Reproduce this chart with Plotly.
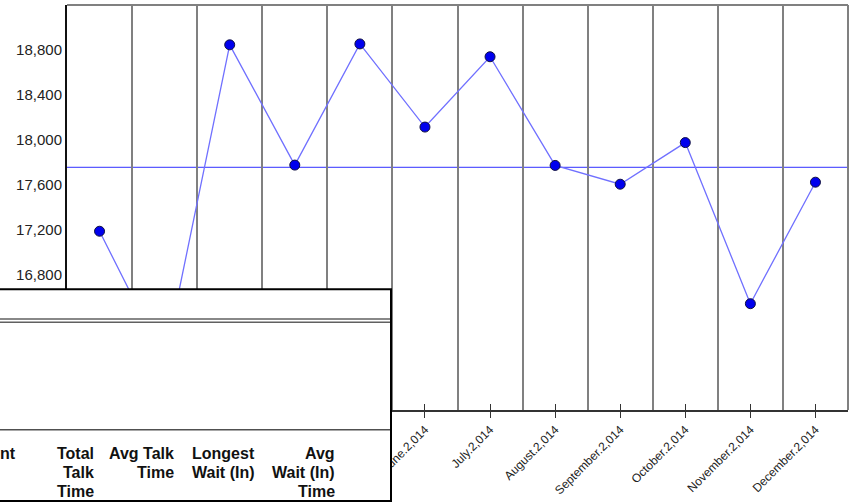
import plotly.graph_objects as go

months = ["January", "February", "March", "April", "May", "June", "July",
          "August", "September", "October", "November", "December"]
tick_labels = [m + ".2,014" for m in months]
values = [17189, 16040, 18846, 17777, 18854, 18115, 18740, 17774, 17607, 17977, 16545, 17625]
y_ticks = [16000, 16400, 16800, 17200, 17600, 18000, 18400, 18800]
header_cols = [
    ["nt"],
    ["Total", "Talk", "Time"],
    ["Avg Talk", "Time"],
    ["Longest", "Wait (In)"],
    ["Avg", "Wait (In)", "Time"],
]

x_idx = list(range(len(months)))
boundaries = [i + 0.5 for i in range(len(months) - 1)]
mean_val = sum(values) / len(values)

# plot area pixel geometry
L, R, T, B = 67, 848, 5, 414
W, H = R - L, B - T


def px(xp):
    return (xp - L) / W


def py(yp):
    return (B - yp) / H


fig = go.Figure()
fig.add_trace(go.Scatter(
    x=x_idx, y=values, mode="lines+markers",
    line=dict(color="#7070ff", width=1.3),
    marker=dict(size=10, color="#0000ee", line=dict(color="#101040", width=1)),
    hoverinfo="skip", showlegend=False,
))
# helper trace for crossing tick marks
fig.add_trace(go.Scatter(x=[], y=[], xaxis="x2", showlegend=False))

shapes = [
    # mean line
    dict(type="line", xref="paper", yref="y", x0=0, x1=1, y0=mean_val, y1=mean_val,
         line=dict(color="#3030ff", width=1), layer="between"),
    # top & right border
    dict(type="line", xref="paper", yref="paper", x0=0, x1=1, y0=1, y1=1,
         line=dict(color="#808080", width=2), layer="above"),
    dict(type="line", xref="paper", yref="paper", x0=1, x1=1, y0=0, y1=1,
         line=dict(color="#808080", width=2), layer="above"),
    # overlay box
    dict(type="rect", xref="paper", yref="paper", x0=px(-3), x1=px(391), y0=py(292), y1=py(506),
         fillcolor="white", line=dict(color="black", width=2), layer="above"),
    dict(type="line", xref="paper", yref="paper", x0=px(-3), x1=px(390), y0=py(322), y1=py(322),
         line=dict(color="#606060", width=1.5), layer="above"),
    dict(type="line", xref="paper", yref="paper", x0=px(-3), x1=px(390), y0=py(325.5), y1=py(325.5),
         line=dict(color="#606060", width=1.5), layer="above"),
    dict(type="line", xref="paper", yref="paper", x0=px(-3), x1=px(390), y0=py(434), y1=py(434),
         line=dict(color="#505050", width=1.5), layer="above"),
]

right_edges = [18, 96, 176, 257, 337]
line_y = [458, 477, 496]
annotations = []
for col, xr in zip(header_cols, right_edges):
    for i, t in enumerate(col):
        annotations.append(dict(
            xref="paper", yref="paper", x=px(xr), y=py(line_y[i]),
            xanchor="right", yanchor="middle", showarrow=False,
            text="<b>" + t + "</b>",
            font=dict(family="Liberation Sans, Arial", size=16, color="#111"),
        ))

fig.update_layout(
    width=855, height=502,
    margin=dict(l=L, r=855 - R, t=T, b=502 - B),
    paper_bgcolor="white", plot_bgcolor="white",
    showlegend=False,
    font=dict(family="Liberation Sans, Arial", color="#222"),
    xaxis=dict(
        range=[-0.5, 11.5], tickmode="array", tickvals=x_idx, ticktext=tick_labels,
        tickangle=-45, ticks="outside", ticklen=6, tickcolor="#333", tickwidth=1,
        showline=True, linecolor="#333", linewidth=2, showgrid=False, zeroline=False,
        tickfont=dict(size=12, color="#222"),
        minor=dict(tickmode="array", tickvals=boundaries, showgrid=True,
                   gridcolor="#808080", gridwidth=1.5, ticks=""),
    ),
    xaxis2=dict(
        range=[-0.5, 11.5], overlaying="x", anchor="y", side="bottom",
        tickmode="array", tickvals=x_idx, ticks="inside", ticklen=6, tickcolor="#333",
        showticklabels=False, showgrid=False, zeroline=False, showline=False,
    ),
    yaxis=dict(
        range=[15600, 19200], tickmode="array", tickvals=y_ticks, tickformat=",",
        showline=True, linecolor="#111", linewidth=2, showgrid=False, zeroline=False,
        ticks="", tickfont=dict(size=15, color="#222"),
    ),
    shapes=shapes,
    annotations=annotations,
)

fig.write_html("out.html", config={"displayModeBar": False},
               post_script="document.body.style.margin='0';document.body.style.overflow='hidden';")
